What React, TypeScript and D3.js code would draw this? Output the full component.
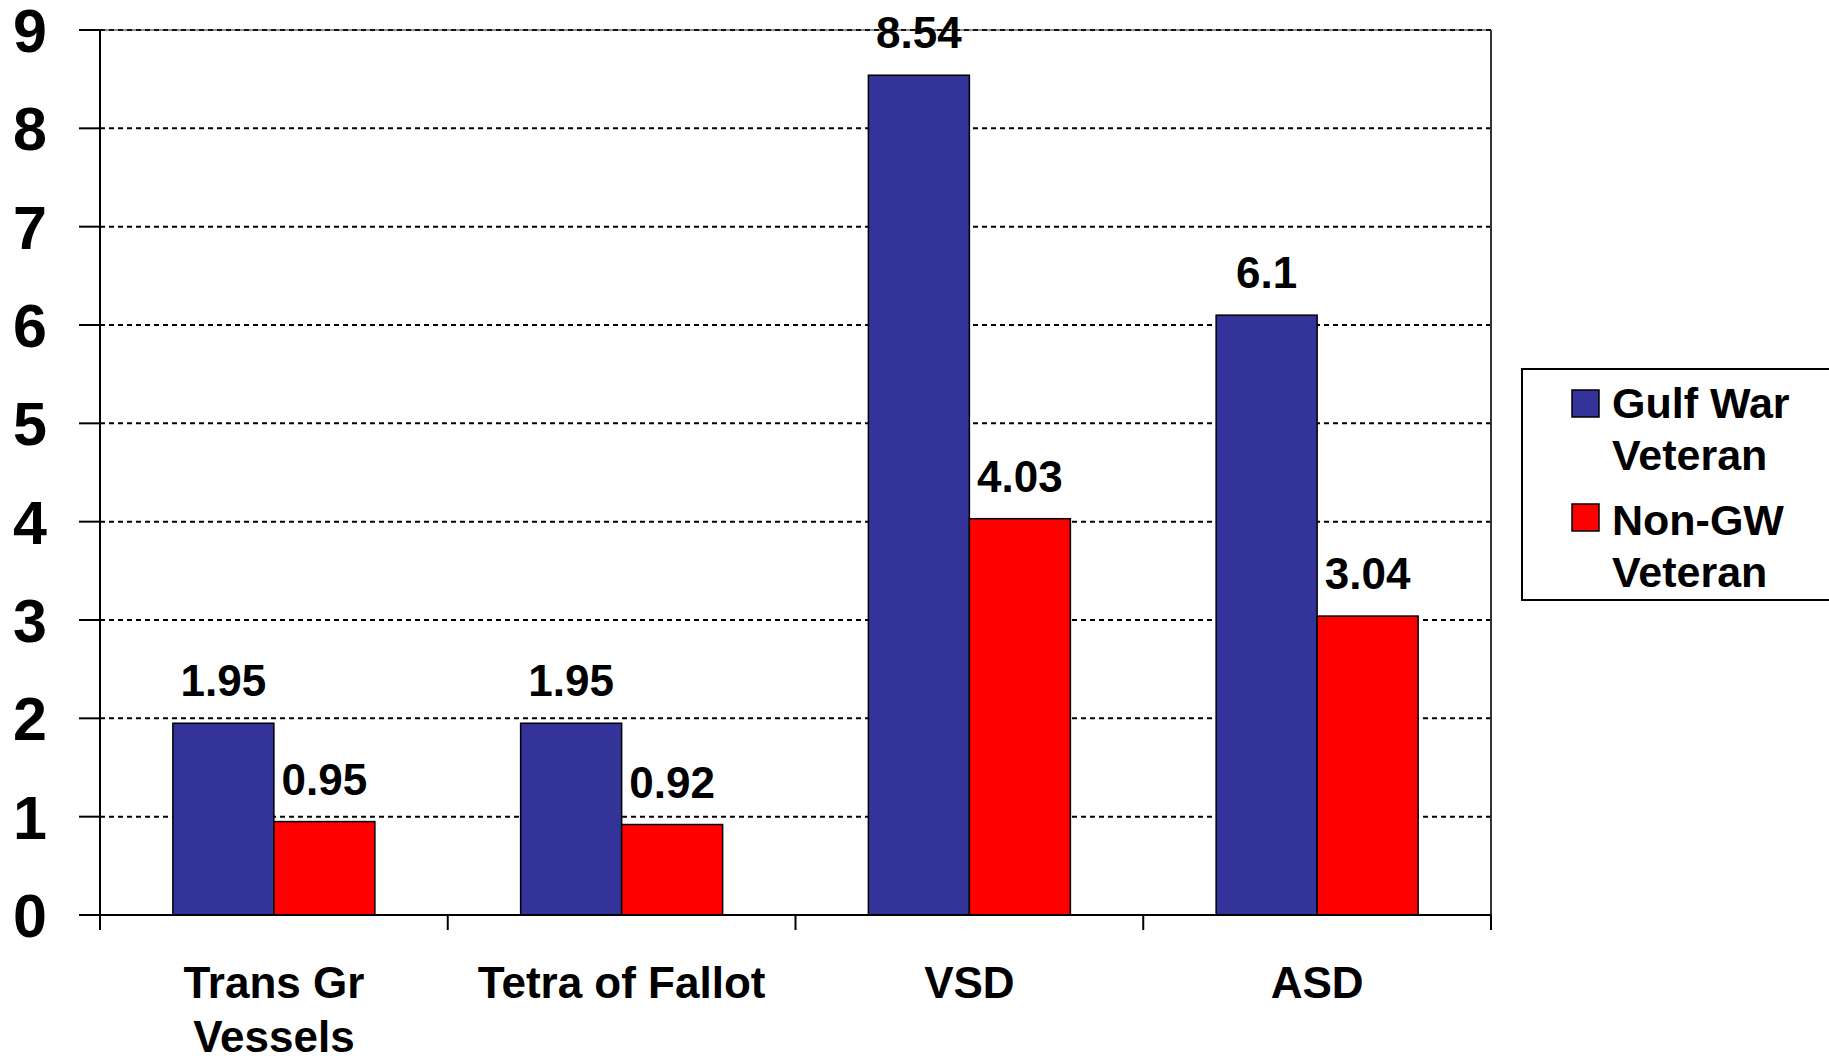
import React from "react";
import * as d3 from "d3";

const categories = [["Trans Gr", "Vessels"], ["Tetra of Fallot"], ["VSD"], ["ASD"]];
const seriesNames = [["Gulf War", "Veteran"], ["Non-GW", "Veteran"]];
const gulfWar = [1.95, 1.95, 8.54, 6.1];
const nonGW = [0.95, 0.92, 4.03, 3.04];
const valueLabels = [["1.95", "1.95", "8.54", "6.1"], ["0.95", "0.92", "4.03", "3.04"]];
const yTicks = [0, 1, 2, 3, 4, 5, 6, 7, 8, 9];
const colors = ["#333399", "#FF0000"];

const FONT = "'Liberation Sans', Arial, sans-serif";

export default function App() {
  const left = 100, right = 1491, top = 30, bottom = 915;
  const y = d3.scaleLinear().domain([0, 9]).range([bottom, top]);
  const x = d3.scaleBand().domain(categories.map((_, i) => String(i))).range([left, right]).paddingInner(0).paddingOuter(0);
  const bw = 101;
  const series = [gulfWar, nonGW];
  return (
    <svg width={1829} height={1061} style={{ position: "absolute", left: 0, top: 0, background: "#fff" }}>
      {/* gridlines */}
      {yTicks.filter((t) => t > 0).map((t) => (
        <line key={"g" + t} x1={left} x2={right} y1={y(t)} y2={y(t)} stroke="#000" strokeWidth={2} strokeDasharray="5,4" />
      ))}
      {/* plot border right/top */}
      <line x1={right} x2={right} y1={top} y2={bottom} stroke="#333" strokeWidth={2} />
      <line x1={left} x2={right} y1={top} y2={top} stroke="#222" strokeWidth={1} />
      {/* bars */}
      {series.map((vals, s) =>
        vals.map((v, i) => {
          const cx = (x(String(i)) as number) + x.bandwidth() / 2;
          const x0 = cx - bw + s * bw;
          return (
            <g key={s + "-" + i}>
              <rect x={x0} y={y(v)} width={bw} height={y(0) - y(v)} fill={colors[s]} stroke="#000" strokeWidth={1.5} />
              <text x={x0 + bw / 2} y={y(v) - 27} textAnchor="middle" fontFamily={FONT} fontWeight="bold" fontSize={44} fill="#000">
                {valueLabels[s][i]}
              </text>
            </g>
          );
        })
      )}
      {/* y axis */}
      <line x1={left} x2={left} y1={top} y2={bottom} stroke="#000" strokeWidth={2} />
      {yTicks.map((t) => (
        <g key={"t" + t}>
          <line x1={left - 21} x2={left} y1={y(t)} y2={y(t)} stroke="#000" strokeWidth={2} />
          <text x={47} y={y(t)} dy="0.36em" textAnchor="end" fontFamily={FONT} fontWeight="bold" fontSize={61} fill="#000">
            {t}
          </text>
        </g>
      ))}
      {/* x axis */}
      <line x1={left - 21} x2={right} y1={bottom} y2={bottom} stroke="#000" strokeWidth={2} />
      {d3.range(categories.length + 1).map((i) => (
        <line key={"xt" + i} x1={left + i * x.bandwidth()} x2={left + i * x.bandwidth()} y1={bottom} y2={bottom + 15} stroke="#000" strokeWidth={2} />
      ))}
      {categories.map((lines, i) => (
        <text key={"c" + i} x={(x(String(i)) as number) + x.bandwidth() / 2} y={998} textAnchor="middle" fontFamily={FONT} fontWeight="bold" fontSize={44} fill="#000">
          {lines.map((l, j) => (
            <tspan key={j} x={(x(String(i)) as number) + x.bandwidth() / 2} dy={j === 0 ? 0 : 54}>
              {l}
            </tspan>
          ))}
        </text>
      ))}
      {/* legend */}
      <rect x={1522} y={369} width={320} height={231} fill="#fff" stroke="#000" strokeWidth={2} />
      {seriesNames.map((lines, s) => (
        <g key={"l" + s}>
          <rect x={1572} y={390 + s * 114} width={27} height={27} fill={colors[s]} stroke="#000" strokeWidth={1.5} />
          <text x={1612} y={418 + s * 117} fontFamily={FONT} fontWeight="bold" fontSize={43} fill="#000">
            {lines.map((l, j) => (
              <tspan key={j} x={1612} dy={j === 0 ? 0 : 52}>
                {l}
              </tspan>
            ))}
          </text>
        </g>
      ))}
    </svg>
  );
}
